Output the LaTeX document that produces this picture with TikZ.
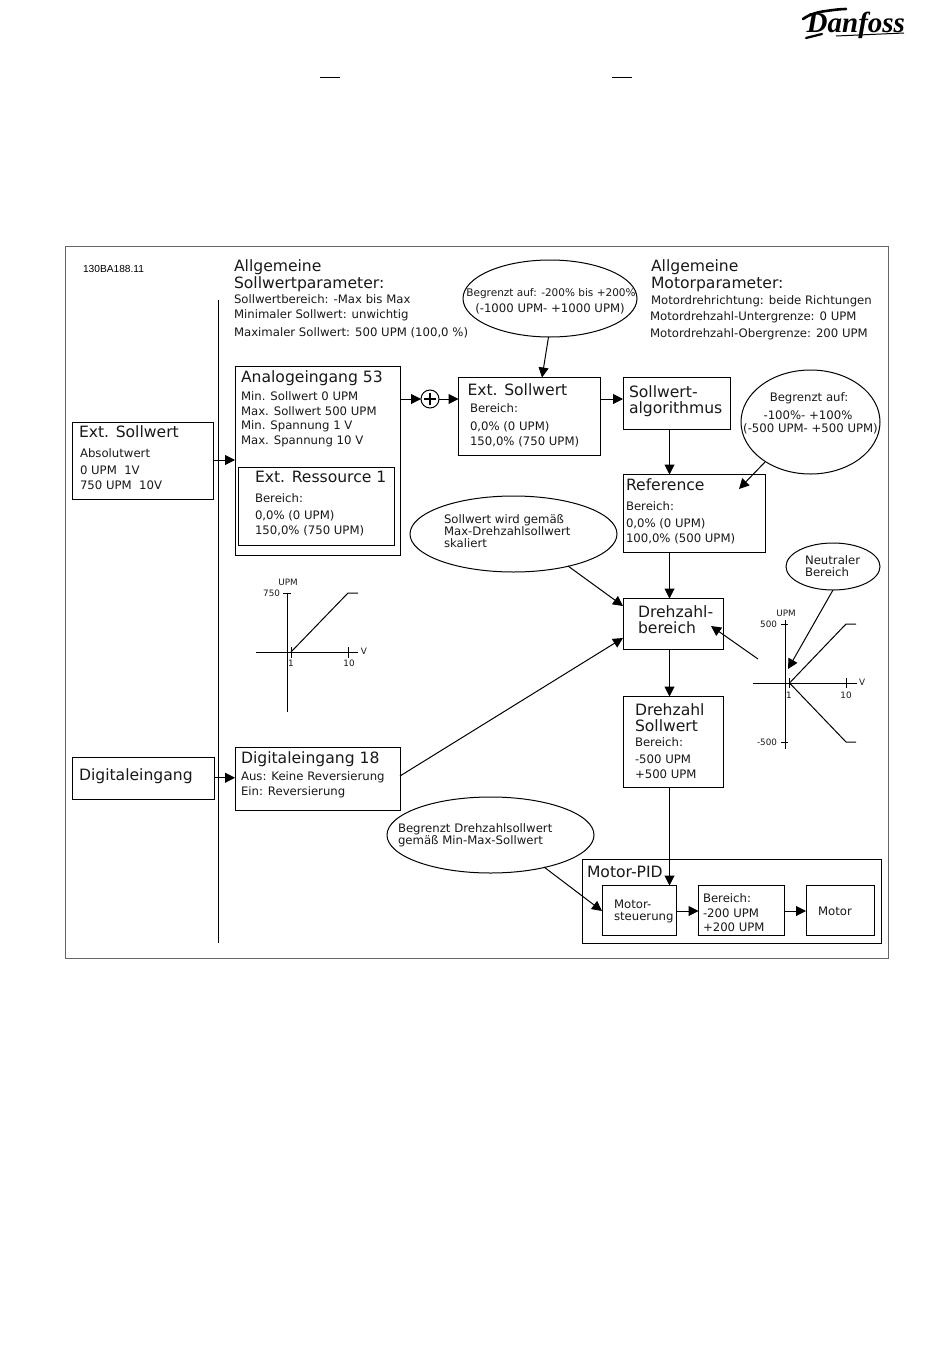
\documentclass[tikz,border=0pt]{standalone}
\usepackage{fontspec}
\setmainfont{DejaVu Sans}
\newfontfamily\logofont{Liberation Serif}
\newfontfamily\codefont{Liberation Sans}
\usetikzlibrary{arrows.meta,calc}
\tikzset{
 every node/.style={inner sep=0pt,outer sep=0pt},
 boxa/.style={draw=black,line width=1pt,anchor=north west,fill=none},
 ell/.style={draw=black,line width=1pt},
 big/.style={anchor=base west,yshift=-1pt,font=\fontsize{15.6}{17}\selectfont,text=black!90},
 small/.style={anchor=base west,yshift=-1pt,font=\fontsize{11.7}{13}\selectfont,text=black!90},
 tiny/.style={yshift=-0.5pt,font=\fontsize{8.8}{10}\selectfont,text=black!90},
 arr/.style={draw=black,line width=1pt,-{Triangle[length=10pt,width=10pt]},shorten <=0pt},
 ax/.style={draw=black,line width=1pt},
}
\newcommand{\bx}[5]{\node[boxa,minimum width=#4pt-#2pt,minimum height=#5pt-#3pt] (#1) at (#2,#3) {};}
\begin{document}
\begin{tikzpicture}[x=1pt,y=-1pt]
\useasboundingbox[fill=white] (0,0) rectangle (950,1360);
% logo
\node[anchor=base east,font=\logofont\bfseries\itshape\fontsize{29}{31}\selectfont] (logo) at (905,32) {Danfoss};
\coordinate (sw1) at (803,19);
\coordinate (sw2) at (826,11);
\coordinate (sw3) at (846,9);
\draw[line width=2.6pt,line cap=round] (sw1) .. controls (810,14) and (818,12) .. (sw2) .. controls (833,10) and (840,9) .. (sw3);
\coordinate (sw6) at (806,38); \coordinate (sw7) at (822,34);
\draw[line width=2.2pt,line cap=round] (sw6) -- (sw7);
\coordinate (sw4) at (836,36); \coordinate (sw5) at (904,33);
\draw[line width=1pt] (sw4) -- (sw5);
% top rules
\coordinate (t1) at (320,77); \coordinate (t2) at (340,77); \coordinate (t3) at (612,77); \coordinate (t4) at (632,77);
\draw[line width=1pt] (t1) -- (t2) (t3) -- (t4);
% frame
\node[draw=black!60,line width=1pt,anchor=north west,minimum width=823pt,minimum height=712pt] (frame) at (65,246) {};
\node[anchor=base west,font=\codefont\fontsize{10.2}{12}\selectfont] (code) at (83,272) {130BA188.11};
\coordinate (v1) at (218.5,300); \coordinate (v2) at (218.5,943);
\draw[line width=1pt] (v1) -- (v2);
% boxes
\bx{extin}{72.5}{422}{213.5}{499}
\bx{ana}{235}{366}{400.5}{555}
\bx{res}{238}{467}{394.5}{545}
\bx{ext}{458.5}{377.5}{600.5}{455}
\bx{alg}{623}{377.5}{730}{429}
\bx{ref}{623}{474.5}{765}{552}
\bx{dre}{623}{598.5}{723.5}{649.5}
\bx{dsw}{623}{696.5}{723.5}{787}
\bx{dig}{72.5}{757.5}{214}{799}
\bx{d18}{235}{747}{400}{810}
\bx{pid}{582.5}{859.5}{881}{943}
\bx{mst}{602}{885.5}{676.5}{935.5}
\bx{ber}{698.5}{885.5}{784}{935.5}
\bx{mot}{806}{885.5}{874.5}{935.5}
\node[draw=black,circle,line width=1pt,minimum size=18pt] (plus) at (430,399) {};
\draw[line width=1.1pt] ($(plus)+(-6,0)$) -- ($(plus)+(6,0)$) ($(plus)+(0,-6)$) -- ($(plus)+(0,6)$);
% ellipses
\draw[ell] (550,298.5) circle[x radius=87,y radius=38.5];
\coordinate (e1b) at (548.5,337);
\draw[ell] (810.5,422) circle[x radius=69.5,y radius=52];
\coordinate (e2b) at (765,462);
\draw[ell] (513.5,534) circle[x radius=103.5,y radius=38];
\coordinate (e3b) at (568,566);
\draw[ell] (833,566.5) circle[x radius=47,y radius=23.5];
\coordinate (e4b) at (833,590);
\draw[ell] (490.5,835) circle[x radius=103.5,y radius=38];
\coordinate (e5b) at (544,867);
% titles
\node[big] (a1) at (234,270) {Allgemeine};
\node[big] (a2) at (234,287) {Sollwertparameter:};
\node[small] (a3) at (234,302) {Sollwertbereich: -Max bis Max};
\node[small] (a4) at (234,317) {Minimaler Sollwert: unwichtig};
\node[small] (a5) at (234,335) {Maximaler Sollwert: 500 UPM (100,0 \%)};
\node[big] (m1) at (651,270) {Allgemeine};
\node[big] (m2) at (651,287) {Motorparameter:};
\node[small] (m3) at (651,303) {Motordrehrichtung: beide Richtungen};
\node[small] (m4) at (650,319) {Motordrehzahl-Untergrenze: 0 UPM};
\node[small] (m5) at (650,336) {Motordrehzahl-Obergrenze: 200 UPM};
% ext input
\node[big] (x1) at (79,436) {Ext. Sollwert};
\node[small] (x2) at (80,456) {Absolutwert};
\node[small] (x3) at (80,473) {0 UPM\ \ 1V};
\node[small] (x4) at (80,488) {750 UPM\ \ 10V};
% analog
\node[big] (n1) at (241,381) {Analogeingang 53};
\node[small] (n2) at (241,399) {Min. Sollwert 0 UPM};
\node[small] (n3) at (241,414) {Max. Sollwert 500 UPM};
\node[small] (n4) at (241,428) {Min. Spannung 1 V};
\node[small] (n5) at (241,443) {Max. Spannung 10 V};
\node[big] (r1) at (255,481) {Ext. Ressource 1};
\node[small] (r2) at (255,501) {Bereich:};
\node[small] (r3) at (255,518) {0,0\% (0 UPM)};
\node[small] (r4) at (255,533) {150,0\% (750 UPM)};
% ext
\node[big] (s1) at (467.5,394) {Ext. Sollwert};
\node[small] (s2) at (470,411) {Bereich:};
\node[small] (s3) at (470,429) {0,0\% (0 UPM)};
\node[small] (s4) at (470,444) {150,0\% (750 UPM)};
\node[big] (g1) at (629,396) {Sollwert-};
\node[big] (g2) at (629,412) {algorithmus};
\node[big] (f1) at (626,489) {Reference};
\node[small] (f2) at (626,509) {Bereich:};
\node[small] (f3) at (626,526) {0,0\% (0 UPM)};
\node[small] (f4) at (626,541) {100,0\% (500 UPM)};
% ellipse text
\node[small,anchor=base,font=\fontsize{10.5}{12}\selectfont] (t11) at (551,295) {Begrenzt auf: -200\% bis +200\%};
\node[small,anchor=base] (t12) at (550,311) {(-1000 UPM- +1000 UPM)};
\node[small,anchor=base] (t21) at (809,400) {Begrenzt auf:};
\node[small,anchor=base] (t22) at (808,418) {-100\%- +100\%};
\node[small,anchor=base] (t23) at (810.5,431) {(-500 UPM- +500 UPM)};
\node[small] (t31) at (444,522) {Sollwert wird gemäß};
\node[small] (t32) at (444,534) {Max-Drehzahlsollwert};
\node[small] (t33) at (444,546) {skaliert};
\node[small] (t41) at (805,563) {Neutraler};
\node[small] (t42) at (805,575) {Bereich};
\node[small] (t51) at (398,831) {Begrenzt Drehzahlsollwert};
\node[small] (t52) at (398,843) {gemäß Min-Max-Sollwert};
% drehzahl
\node[big] (d1) at (638,616) {Drehzahl-};
\node[big] (d2) at (638,632) {bereich};
\node[big] (w1) at (635,714) {Drehzahl};
\node[big] (w2) at (635,730) {Sollwert};
\node[small] (w3) at (635,745) {Bereich:};
\node[small] (w4) at (635,762) {-500 UPM};
\node[small] (w5) at (635,777) {+500 UPM};
\node[big] (i1) at (79,779) {Digitaleingang};
\node[big] (h1) at (241,762) {Digitaleingang 18};
\node[small] (h2) at (241,779) {Aus: Keine Reversierung};
\node[small] (h3) at (241,794) {Ein: Reversierung};
\node[big] (p1) at (587,876) {Motor-PID};
\node[small] (p2) at (614,907) {Motor-};
\node[small] (p3) at (614,919) {steuerung};
\node[small] (p4) at (703,901) {Bereich:};
\node[small] (p5) at (703,916) {-200 UPM};
\node[small] (p6) at (703,930) {+200 UPM};
\node[small] (p7) at (818,914) {Motor};
% left graph
\coordinate (la) at (287,593); \coordinate (lb) at (287,712);
\coordinate (lc) at (256,652); \coordinate (ld) at (358,652);
\coordinate (o1) at (291,652); \coordinate (o2) at (348,593); \coordinate (o3) at (358,593);
\draw[ax] (la) -- (lb); \draw[ax] (lc) -- (ld);
\draw[ax] (o1) -- (o2) -- (o3);
\draw[ax] (291,647) -- (291,658) (348,647) -- (348,658) (283,593) -- (291,593);
\node[tiny,anchor=base] (l1) at (288,585) {UPM};
\node[tiny,anchor=base east] (l2) at (280,596) {750};
\node[tiny,anchor=base] (l3) at (291,666) {1};
\node[tiny,anchor=base] (l4) at (349,666) {10};
\node[tiny,anchor=base] (l5) at (364,654) {V};
% right graph
\coordinate (ra) at (785,620); \coordinate (rb) at (785,749);
\coordinate (rc) at (753,683); \coordinate (rd) at (857,683);
\coordinate (q1) at (789.5,683); \coordinate (q2) at (846,624); \coordinate (q3) at (856,624);
\coordinate (q4) at (846,742); \coordinate (q5) at (856,742);
\draw[ax] (ra) -- (rb); \draw[ax] (rc) -- (rd);
\draw[ax] (q1) -- (q2) -- (q3); \draw[ax] (q1) -- (q4) -- (q5);
\draw[ax] (789.5,678) -- (789.5,688) (846,678) -- (846,688) (781,624) -- (788,624) (781,742) -- (788,742);
\node[tiny,anchor=base] (u1) at (786,616) {UPM};
\node[tiny,anchor=base east] (u2) at (777,627) {500};
\node[tiny,anchor=base east] (u3) at (777,745) {-500};
\node[tiny,anchor=base] (u4) at (789,697.5) {1};
\node[tiny,anchor=base] (u5) at (846,697.5) {10};
\node[tiny,anchor=base] (u6) at (862,685) {V};
% connectors
\coordinate (c1) at (213.5,460);
\coordinate (c2) at (235,460);
\draw[arr] (c1) -- (c2);
\draw[arr] (dig.east) ++(0,-0.5) coordinate (c3) -- (d18.west |- c3);
\coordinate (c4) at (400.5,399);
\draw[arr] (c4) -- (plus.west);
\draw[arr] (plus.east) -- (ext.west |- plus.east);
\coordinate (c5) at (542,377.5);
\draw[arr] (e1b) -- (c5);
\coordinate (c6) at (600.5,399);
\draw[arr] (c6) -- (alg.west |- c6);
\coordinate (c7) at (669.5,429);
\draw[arr] (c7) -- (ref.north -| c7);
\coordinate (c8) at (739,489);
\draw[arr] (e2b) -- (c8);
\coordinate (c9) at (669.5,552);
\draw[arr] (c9) -- (dre.north -| c9);
\coordinate (c10) at (623,606);
\draw[arr] (e3b) -- (c10);
\coordinate (c11) at (400,776);
\coordinate (c12) at (623,638);
\draw[arr] (c11) -- (c12);
\coordinate (c13) at (669.5,649.5);
\draw[arr] (c13) -- (dsw.north -| c13);
\coordinate (c14) at (758,659);
\coordinate (c15) at (711,626);
\draw[arr] (c14) -- (c15);
\coordinate (c16) at (788,669);
\draw[arr] (e4b) -- (c16);
\coordinate (c17) at (669.5,787);
\draw[arr] (c17) -- (mst.north -| c17);
\coordinate (c18) at (602,911);
\draw[arr] (e5b) -- (c18);
\coordinate (c19) at (676.5,911);
\draw[arr] (c19) -- (ber.west |- c19);
\coordinate (c20) at (784,911);
\draw[arr] (c20) -- (mot.west |- c20);
\end{tikzpicture}
\end{document}
